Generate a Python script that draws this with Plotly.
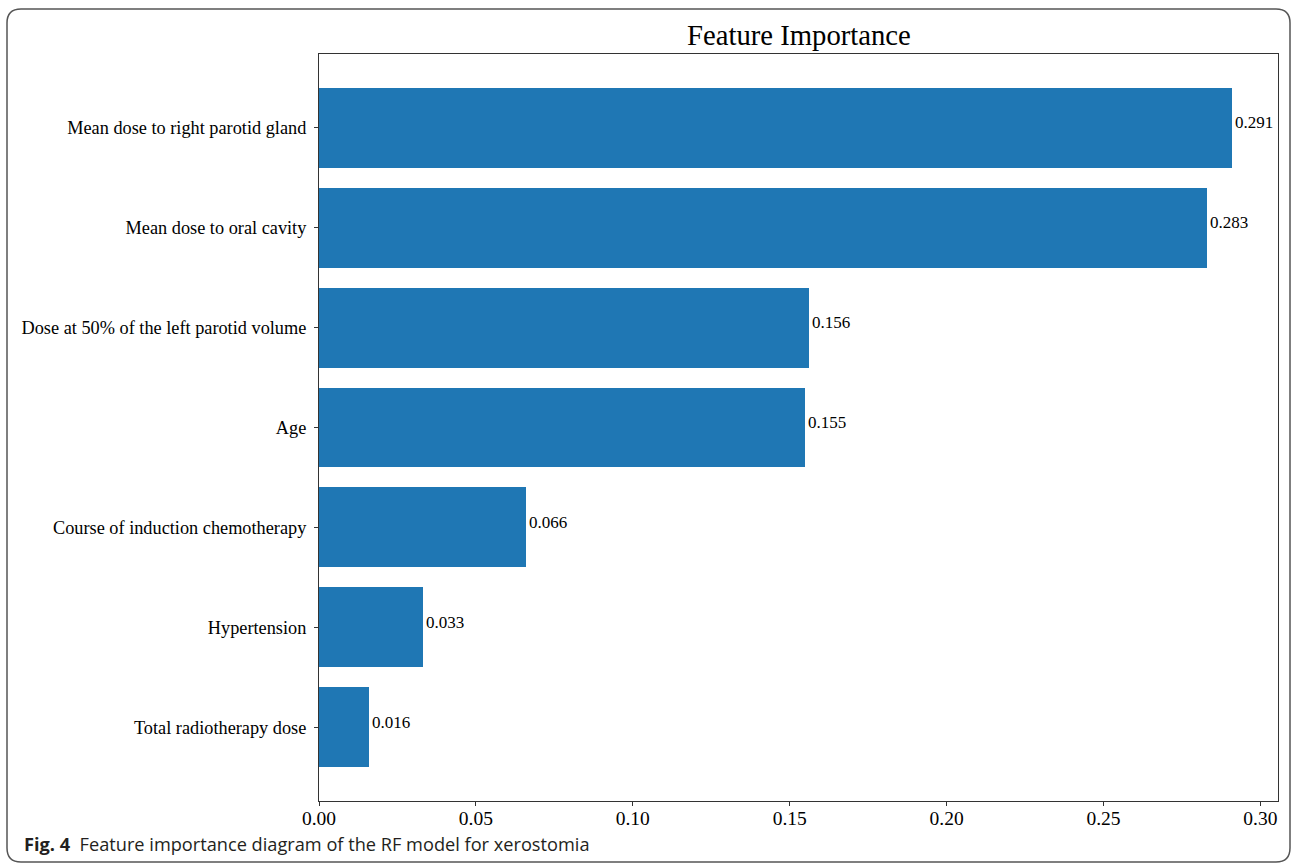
import plotly.graph_objects as go

# Data (bottom to top)
features = [
    "Total radiotherapy dose",
    "Hypertension",
    "Course of induction chemotherapy",
    "Age",
    "Dose at 50% of the left parotid volume",
    "Mean dose to oral cavity",
    "Mean dose to right parotid gland",
]
importance = [0.016, 0.033, 0.066, 0.155, 0.156, 0.283, 0.291]
x_ticks = [0.00, 0.05, 0.10, 0.15, 0.20, 0.25, 0.30]
x_tick_labels = ["0.00", "0.05", "0.10", "0.15", "0.20", "0.25", "0.30"]

W, H = 1292, 866
L, R, T, B = 319, 1278, 54, 801
SERIF = "Liberation Serif, Times New Roman, serif"

fig = go.Figure()
fig.add_trace(go.Bar(
    x=importance, y=features, orientation="h",
    width=0.8, marker=dict(color="#1f77b4", line=dict(width=0)),
    hoverinfo="x+y",
))

for v, f in zip(importance, features):
    fig.add_annotation(x=v, y=f, text=f"{v:.3f}", showarrow=False,
                       xanchor="left", yanchor="middle", xshift=1, yshift=5,
                       font=dict(family=SERIF, size=17, color="black"))

def px(x):
    return (x - L) / (R - L)

def py(y):
    return (B - y) / (B - T)

# rounded border around the whole figure
x0, x1, y0, y1, r = 7, 1290, 9, 862, 14
path = (
    f"M {px(x0 + r)} {py(y0)} L {px(x1 - r)} {py(y0)} "
    f"Q {px(x1)} {py(y0)} {px(x1)} {py(y0 + r)} "
    f"L {px(x1)} {py(y1 - r)} "
    f"Q {px(x1)} {py(y1)} {px(x1 - r)} {py(y1)} "
    f"L {px(x0 + r)} {py(y1)} "
    f"Q {px(x0)} {py(y1)} {px(x0)} {py(y1 - r)} "
    f"L {px(x0)} {py(y0 + r)} "
    f"Q {px(x0)} {py(y0)} {px(x0 + r)} {py(y0)} Z"
)
fig.add_shape(type="path", path=path, xref="paper", yref="paper",
              line=dict(color="#555555", width=1.5), layer="above")

fig.add_annotation(x=0.5, y=py(35), xref="paper", yref="paper",
                   text="Feature Importance", showarrow=False,
                   xanchor="center", yanchor="middle",
                   font=dict(family=SERIF, size=28.7, color="black"))

fig.add_annotation(x=px(22), y=py(844), xref="paper", yref="paper",
                   text="<b>Fig. 4</b>  Feature importance diagram of the RF model for xerostomia",
                   showarrow=False, xanchor="left", yanchor="middle",
                   font=dict(family="Open Sans, sans-serif", size=18.2, color="#231f20"))

fig.update_layout(
    width=W, height=H,
    margin=dict(l=L, r=W - R, t=T, b=H - B, pad=0),
    paper_bgcolor="white", plot_bgcolor="white",
    showlegend=False,
    bargap=0,
    xaxis=dict(
        range=[0, 0.3056], tickvals=x_ticks, ticktext=x_tick_labels,
        showgrid=False, zeroline=False,
        showline=True, linecolor="#333333", linewidth=1, mirror=True,
        ticks="outside", ticklen=4, tickcolor="#333333",
        ticklabelstandoff=-4,
        tickfont=dict(family=SERIF, size=19.5, color="black"),
    ),
    yaxis=dict(
        range=[-0.74, 6.74], type="category",
        showgrid=False, zeroline=False,
        showline=True, linecolor="#333333", linewidth=1, mirror=True,
        ticks="outside", ticklen=4, tickcolor="#333333",
        ticklabelstandoff=4,
        tickfont=dict(family=SERIF, size=18.3, color="black"),
    ),
)

fig.write_html("out.html", config={"displayModeBar": False},
               post_script="document.body.style.margin='0';document.body.style.overflow='hidden';")
